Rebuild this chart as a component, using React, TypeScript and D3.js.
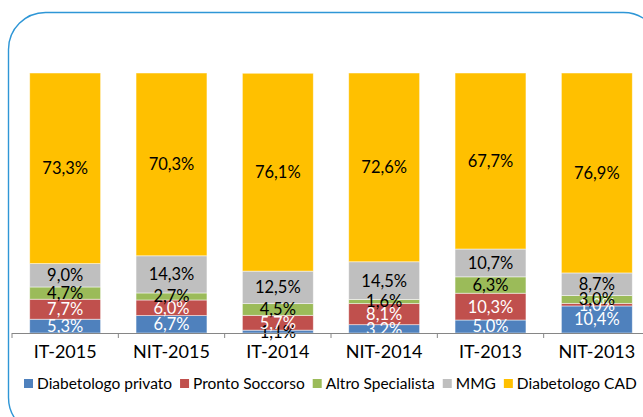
import { useMemo } from "react";
import * as d3 from "d3";

const width = 643;
const height = 417;
const margin = { top: 73, right: -7, bottom: 84, left: 12 };

const categories = ["IT-2015", "NIT-2015", "IT-2014", "NIT-2014", "IT-2013", "NIT-2013"];
const seriesNames = [
  "Diabetologo privato",
  "Pronto Soccorso",
  "Altro Specialista",
  "MMG",
  "Diabetologo CAD",
];
const diabetologoPrivato = [5.3, 6.7, 1.1, 3.2, 5.0, 10.4];
const prontoSoccorso = [7.7, 6.0, 5.7, 8.1, 10.3, 1.0];
const altroSpecialista = [4.7, 2.7, 4.5, 1.6, 6.3, 3.0];
const mmg = [9.0, 14.3, 12.5, 14.5, 10.7, 8.7];
const diabetologoCad = [73.3, 70.3, 76.1, 72.6, 67.7, 76.9];

const seriesValues = [diabetologoPrivato, prontoSoccorso, altroSpecialista, mmg, diabetologoCad];
const colors = ["#4F81BD", "#C0504D", "#9BBB59", "#BFBFBF", "#FFC000"];

const font = "Lato, 'Open Sans', sans-serif";

const fmt = (v: number) => v.toFixed(1).replace(".", ",") + "%";

let ctx: CanvasRenderingContext2D | null = null;
const measure = (text: string, size: number) => {
  if (!ctx) ctx = document.createElement("canvas").getContext("2d");
  if (!ctx) return text.length * size * 0.5;
  ctx.font = `${size}px Lato`;
  return ctx.measureText(text).width;
};

const App = () => {
  const innerW = width - margin.left - margin.right;
  const innerH = height - margin.top - margin.bottom;

  const x = d3.scaleBand<string>().domain(categories).range([margin.left, margin.left + innerW]).paddingInner(0.333).paddingOuter(0.1665);
  const y = d3.scaleLinear().domain([0, 100]).range([margin.top + innerH, margin.top]);

  const rows = categories.map((c, i) => {
    const r: Record<string, number | string> = { cat: c };
    seriesNames.forEach((s, k) => (r[s] = seriesValues[k][i]));
    return r;
  });

  const stacked = useMemo(
    () => d3.stack<Record<string, number | string>>().keys(seriesNames).value((d, key) => d[key] as number)(rows),
    []
  );

  const step = x.step();
  const x0 = margin.left;
  const ticks = d3.range(categories.length + 1).map((i) => x0 + i * step);

  // legend layout
  const legendSize = 15.5;
  const legendItems: { name: string; color: string; x: number }[] = [];
  let cursor = 24;
  seriesNames.forEach((s, k) => {
    legendItems.push({ name: s, color: colors[k], x: cursor });
    cursor += 9 + 4 + measure(s, legendSize) + 8;
  });

  return (
    <svg width={width} height={height} style={{ position: "absolute", left: 0, top: 0, background: "#fff" }}>
      <rect x={8.5} y={12.5} width={652} height={422} rx={37} ry={37} fill="none" stroke="#2E96D6" strokeWidth={1.4} />
      {stacked.map((layer, k) => (
        <g key={layer.key}>
          {layer.map((d, i) => (
            <rect
              key={i}
              x={x(categories[i])}
              y={y(d[1])}
              width={x.bandwidth()}
              height={y(d[0]) - y(d[1])}
              fill={colors[k]}
              stroke="#fff"
              strokeOpacity={0.6}
              strokeWidth={0.8}
            />
          ))}
        </g>
      ))}
      {stacked.map((layer, k) => (
        <g key={"l" + layer.key}>
          {layer.map((d, i) => {
            const v = seriesValues[k][i];
            const dark = k >= 2 || (k === 0 && v < 2);
            return (
              <text
                key={i}
                x={(x(categories[i]) ?? 0) + x.bandwidth() / 2}
                y={(y(d[0]) + y(d[1])) / 2}
                dy="0.36em"
                textAnchor="middle"
                fontFamily={font}
                fontSize={16.5}
                fill={dark ? "#000" : "#fff"}
              >
                {fmt(v)}
              </text>
            );
          })}
        </g>
      ))}
      <line x1={ticks[0]} x2={ticks[ticks.length - 1]} y1={y(0) + 0.5} y2={y(0) + 0.5} stroke="#868686" strokeWidth={1} />
      {ticks.map((t, i) => (
        <line key={i} x1={t} x2={t} y1={y(0)} y2={y(0) + 5} stroke="#868686" strokeWidth={1} />
      ))}
      {categories.map((c) => (
        <text
          key={c}
          x={(x(c) ?? 0) + x.bandwidth() / 2}
          y={352}
          dy="0.36em"
          textAnchor="middle"
          fontFamily={font}
          fontSize={18}
          fill="#000"
        >
          {c}
        </text>
      ))}
      {legendItems.map((it) => (
        <g key={it.name}>
          <rect x={it.x} y={379} width={9} height={9} fill={it.color} />
          <text x={it.x + 13} y={383.5} dy="0.36em" fontFamily={font} fontSize={legendSize} fill="#000">
            {it.name}
          </text>
        </g>
      ))}
    </svg>
  );
};

export default App;
